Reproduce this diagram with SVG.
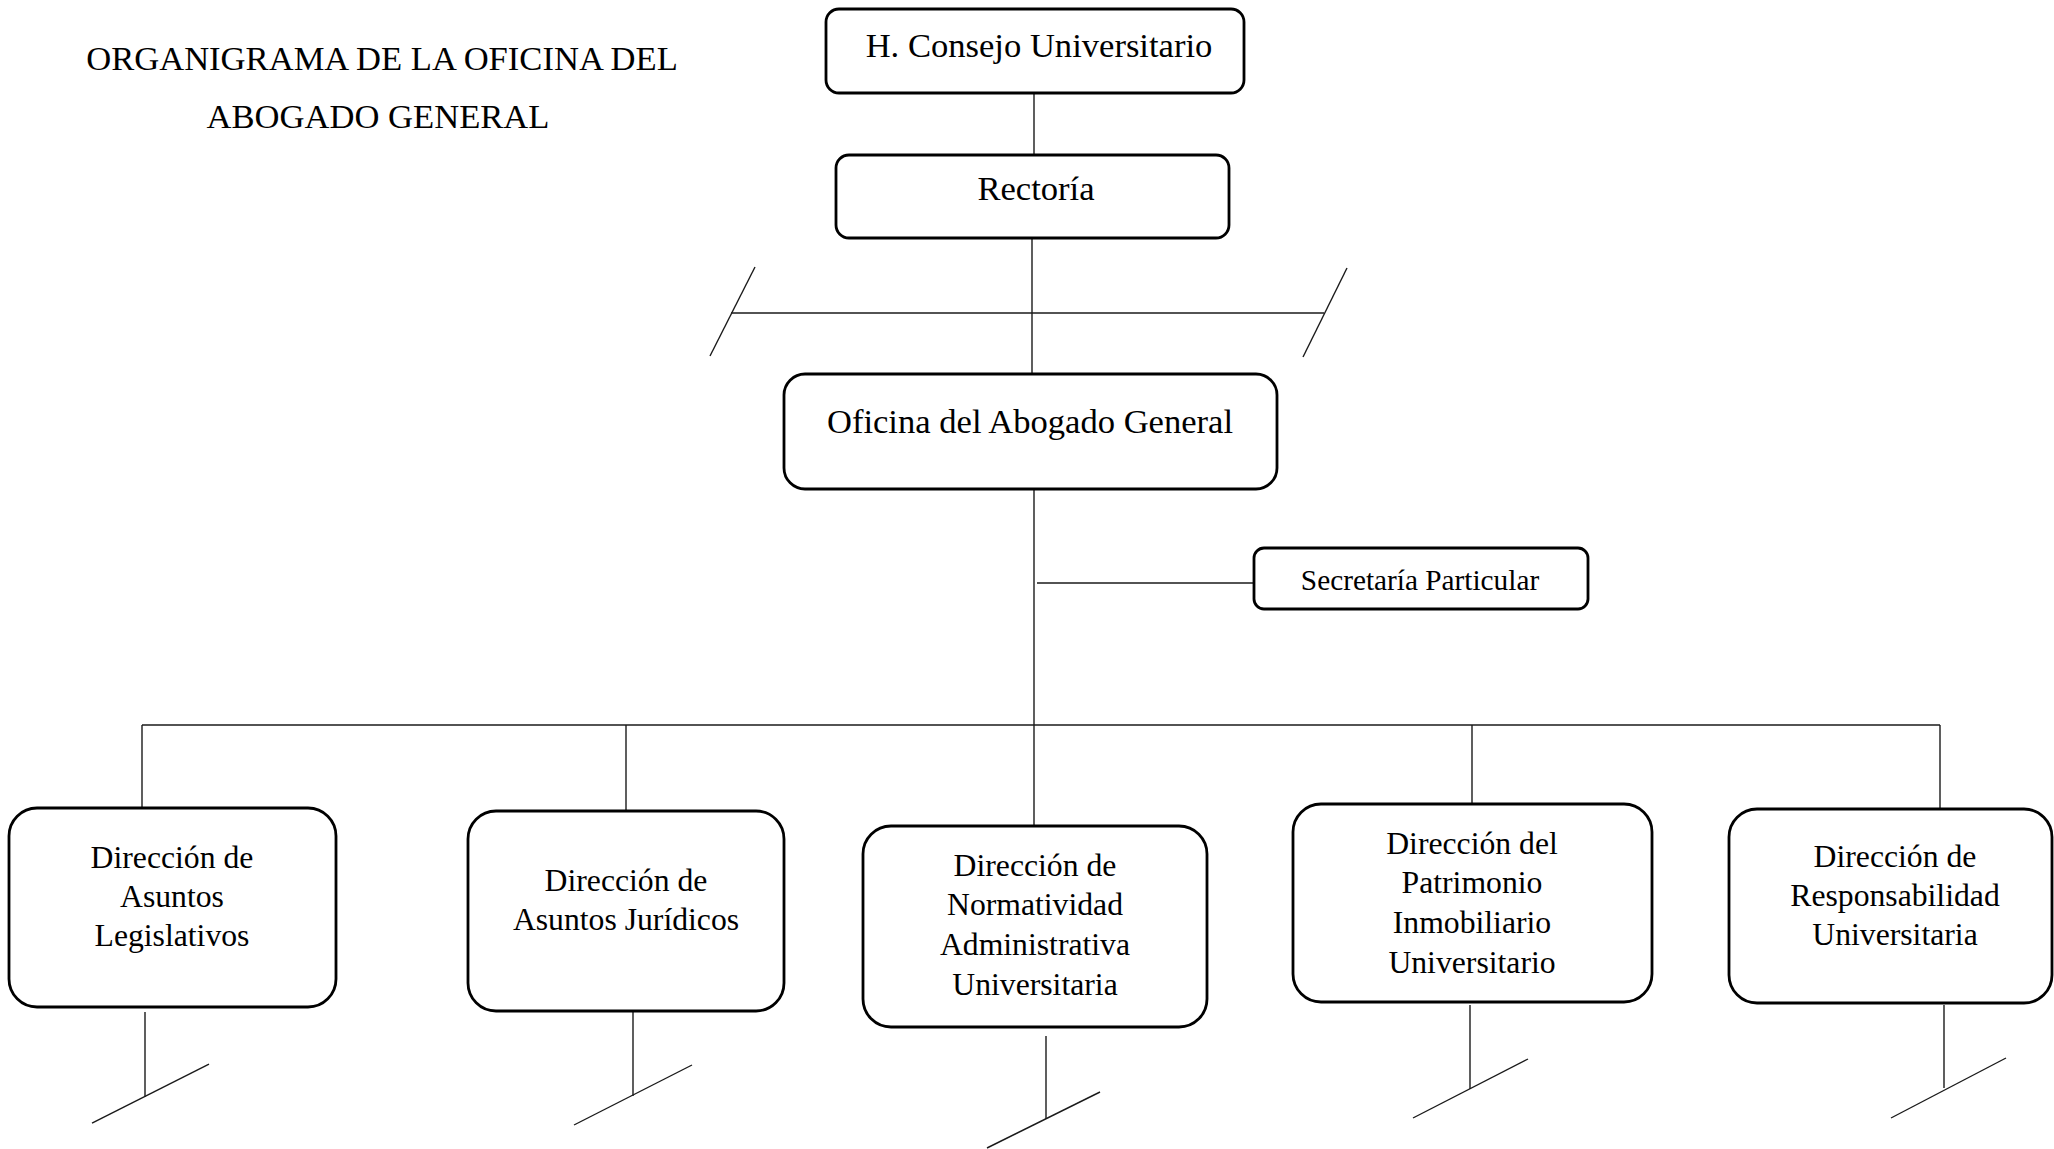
<svg xmlns="http://www.w3.org/2000/svg" width="2054" height="1149" viewBox="0 0 2054 1149">
<style>
  .box { fill: #ffffff; stroke: #000000; stroke-width: 2.8; }
  .ln { stroke: #1a1a1a; stroke-width: 1.4; fill: none; stroke-linecap: butt; }
  .t { font-family: "Liberation Serif", "Times New Roman", serif; fill: #000000; text-anchor: middle; }
  .big { font-size: 34.6px; }
  .mid { font-size: 31.7px; }
  .sm { font-size: 29.3px; }
</style>
<rect x="0" y="0" width="2054" height="1149" fill="#ffffff"/>

<g id="title">
  <text class="t big" x="382" y="70">ORGANIGRAMA DE LA OFICINA DEL</text>
  <text class="t big" x="378" y="128">ABOGADO GENERAL</text>
</g>

<g id="connectors">
  <line class="ln" x1="1034" y1="93" x2="1034" y2="155"/>
  <line class="ln" x1="1032" y1="238" x2="1032" y2="374"/>
  <line class="ln" x1="731" y1="313" x2="1324" y2="313"/>
  <line class="ln" x1="755" y1="267" x2="710" y2="356"/>
  <line class="ln" x1="1347" y1="268" x2="1303" y2="357"/>
  <line class="ln" x1="1034" y1="489" x2="1034" y2="826"/>
  <line class="ln" x1="1037" y1="583" x2="1254" y2="583"/>
  <line class="ln" x1="142" y1="725" x2="1940" y2="725"/>
  <line class="ln" x1="142" y1="725" x2="142" y2="808"/>
  <line class="ln" x1="626" y1="725" x2="626" y2="811"/>
  <line class="ln" x1="1472" y1="725" x2="1472" y2="804"/>
  <line class="ln" x1="1940" y1="725" x2="1940" y2="809"/>
  <line class="ln" x1="145" y1="1012" x2="145" y2="1097"/>
  <line class="ln" x1="209" y1="1064" x2="92" y2="1123"/>
  <line class="ln" x1="633" y1="1012" x2="633" y2="1096"/>
  <line class="ln" x1="692" y1="1065" x2="574" y2="1125"/>
  <line class="ln" x1="1046" y1="1036" x2="1046" y2="1119"/>
  <line class="ln" x1="1100" y1="1092" x2="987" y2="1148"/>
  <line class="ln" x1="1470" y1="1005" x2="1470" y2="1089"/>
  <line class="ln" x1="1528" y1="1059" x2="1413" y2="1118"/>
  <line class="ln" x1="1944" y1="1005" x2="1944" y2="1088"/>
  <line class="ln" x1="2006" y1="1058" x2="1891" y2="1118"/>
</g>

<g id="consejo">
  <rect class="box" x="826" y="9" width="418" height="84" rx="13"/>
  <text class="t big" x="1039" y="57">H. Consejo Universitario</text>
</g>
<g id="rectoria">
  <rect class="box" x="836" y="155" width="393" height="83" rx="13"/>
  <text class="t big" x="1036" y="200">Rectoría</text>
</g>
<g id="oficina">
  <rect class="box" x="784" y="374" width="493" height="115" rx="21"/>
  <text class="t big" x="1030" y="433">Oficina del Abogado General</text>
</g>
<g id="secretaria">
  <rect class="box" x="1254" y="548" width="334" height="61" rx="10"/>
  <text class="t sm" x="1420" y="590">Secretaría Particular</text>
</g>
<g id="legislativos">
  <rect class="box" x="9" y="808" width="327" height="199" rx="28"/>
  <text class="t mid" x="172" y="868">Dirección de</text>
  <text class="t mid" x="172" y="907">Asuntos</text>
  <text class="t mid" x="172" y="946">Legislativos</text>
</g>
<g id="juridicos">
  <rect class="box" x="468" y="811" width="316" height="200" rx="28"/>
  <text class="t mid" x="626" y="891">Dirección de</text>
  <text class="t mid" x="626" y="930">Asuntos Jurídicos</text>
</g>
<g id="normatividad">
  <rect class="box" x="863" y="826" width="344" height="201" rx="28"/>
  <text class="t mid" x="1035" y="876">Dirección de</text>
  <text class="t mid" x="1035" y="915">Normatividad</text>
  <text class="t mid" x="1035" y="955">Administrativa</text>
  <text class="t mid" x="1035" y="995">Universitaria</text>
</g>
<g id="patrimonio">
  <rect class="box" x="1293" y="804" width="359" height="198" rx="28"/>
  <text class="t mid" x="1472" y="854">Dirección del</text>
  <text class="t mid" x="1472" y="893">Patrimonio</text>
  <text class="t mid" x="1472" y="933">Inmobiliario</text>
  <text class="t mid" x="1472" y="973">Universitario</text>
</g>
<g id="responsabilidad">
  <rect class="box" x="1729" y="809" width="323" height="194" rx="28"/>
  <text class="t mid" x="1895" y="867">Dirección de</text>
  <text class="t mid" x="1895" y="906">Responsabilidad</text>
  <text class="t mid" x="1895" y="945">Universitaria</text>
</g>
</svg>
